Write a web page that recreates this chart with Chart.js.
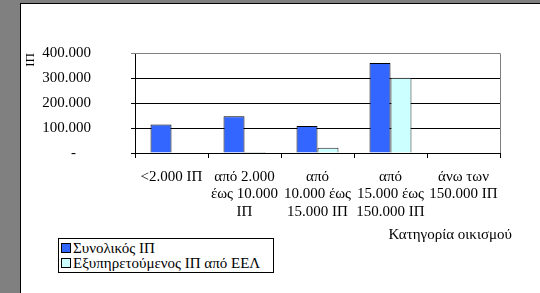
<!DOCTYPE html>
<html>
<head>
<meta charset="utf-8">
<script src="https://cdn.jsdelivr.net/npm/chart.js@4/dist/chart.umd.min.js"></script>
<style>
  html, body { margin: 0; padding: 0; }
  body { width: 540px; height: 293px; background: #808080; position: relative; overflow: hidden; }
  #page { position: absolute; left: 20px; top: 3px; width: 519px; height: 289px;
          background: #fff; border-left: 1px solid #000; border-top: 1px solid #000; }
  #wrap { position: absolute; left: 0; top: 0; width: 519px; height: 289px; }
  #legend { position: absolute; left: 37px; top: 234px; width: 216px; height: 35px; box-sizing: border-box;
            border: 1px solid #000; background: #fff; font: 15px "Liberation Serif", "Times New Roman", serif;
            color: #000; padding: 2px 0 0 2px; }
  #legend div { height: 14.5px; line-height: 14.5px; white-space: nowrap; }
  #legend span.box { display: inline-block; width: 8px; height: 8px; border: 1px solid #000;
                     margin-right: 2px; vertical-align: 0px; }
</style>
</head>
<body>
<div id="page">
  <div id="wrap"><canvas id="chart" width="519" height="289"></canvas></div>
  <div id="legend"></div>
</div>
<script>
// chart data
const categories = [
    ['<2.000 ΙΠ'],
    ['από 2.000', 'έως 10.000', 'ΙΠ'],
    ['από', '10.000 έως', '15.000 ΙΠ'],
    ['από', '15.000 έως', '150.000 ΙΠ'],
    ['άνω των', '150.000 ΙΠ']
];
const totalPE = [114000, 147000, 108000, 360000, 0];
const servedPE = [0, 4000, 21000, 301000, 0];
const seriesNames = ['Συνολικός ΙΠ', 'Εξυπηρετούμενος ΙΠ από ΕΕΛ'];
const yTitle = 'ΙΠ';
const xTitle = 'Κατηγορία οικισμού';

const serif = '"Liberation Serif", "Times New Roman", serif';

// gray frame on top/right of the plot + x-axis title flush right
const frame = {
    id: 'frame',
    beforeDatasetsDraw(chart) {
        const { ctx, chartArea: a } = chart;
        ctx.save();
        ctx.strokeStyle = '#808080';
        ctx.lineWidth = 1;
        ctx.beginPath();
        ctx.moveTo(a.left, Math.round(a.top) + 0.5);
        ctx.lineTo(Math.round(a.right) + 0.5, Math.round(a.top) + 0.5);
        ctx.lineTo(Math.round(a.right) + 0.5, a.bottom);
        ctx.stroke();
        ctx.restore();
    },
    afterDraw(chart) {
        const { ctx, chartArea: a } = chart;
        ctx.save();
        ctx.font = '15px ' + serif;
        ctx.fillStyle = '#000';
        ctx.textAlign = 'right';
        ctx.textBaseline = 'middle';
        ctx.fillText(xTitle, a.right + 12, a.bottom + 82);
        ctx.restore();
    }
};

const chart = new Chart(document.getElementById('chart'), {
    type: 'bar',
    data: {
        labels: categories,
        datasets: [{
            label: seriesNames[0],
            data: totalPE,
            backgroundColor: '#3366FF',
            borderColor: '#000',
            borderWidth: 1,
            borderSkipped: 'bottom'
        }, {
            label: seriesNames[1],
            data: servedPE,
            backgroundColor: '#CCFFFF',
            borderColor: '#222',
            borderWidth: 1,
            borderSkipped: 'bottom'
        }]
    },
    options: {
        responsive: false,
        animation: false,
        layout: { padding: { top: 43, right: 40, bottom: 49, left: 0 } },
        datasets: { bar: { categoryPercentage: 0.575, barPercentage: 1 } },
        plugins: { legend: { display: false }, tooltip: { enabled: false } },
        scales: {
            x: {
                afterFit(scale) { scale.height = 91; },
                grid: { drawOnChartArea: false, offset: true, tickLength: 5, color: '#000' },
                border: { color: '#000', width: 1 },
                ticks: {
                    color: '#000', maxRotation: 0, autoSkip: false, padding: 10,
                    font: { family: serif, size: 15, lineHeight: 1.17 }
                }
            },
            y: {
                min: 0, max: 400000,
                afterFit(scale) { scale.width = 114; },
                grid: {
                    tickLength: 4,
                    color: ctx => ctx.tick && ctx.tick.value === 400000 ? '#808080' : '#000'
                },
                border: { color: '#000', width: 1 },
                ticks: {
                    stepSize: 100000, color: '#000', padding: 40,
                    font: { family: serif, size: 15 },
                    callback: v => v === 0 ? '-    ' : String(v).replace(/\B(?=(\d{3})+(?!\d))/g, '.')
                },
                title: {
                    display: true, text: yTitle, align: 'end', color: '#000',
                    font: { family: serif, size: 13 }, padding: { top: 2, bottom: 0 }
                }
            }
        }
    },
    plugins: [frame]
});

const legend = document.getElementById('legend');
chart.data.datasets.forEach(ds => {
    const row = document.createElement('div');
    const box = document.createElement('span');
    box.className = 'box';
    box.style.background = ds.backgroundColor;
    row.appendChild(box);
    row.appendChild(document.createTextNode(ds.label));
    legend.appendChild(row);
});
</script>
</body>
</html>
